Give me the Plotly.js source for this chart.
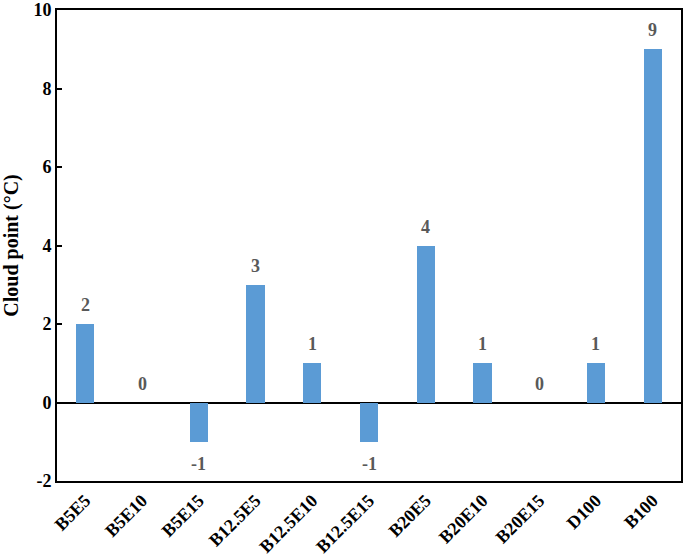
<!DOCTYPE html>
<html>
<head>
<meta charset="UTF-8">
<script src="https://cdn.plot.ly/plotly-3.0.1.min.js"></script>
<style>
  body { margin: 0; }
  #chart { width: 685px; height: 558px; }
</style>
</head>
<body>
<div id="chart"></div>
<script>
  // blends and their cloud points
  const blends = ['B5E5', 'B5E10', 'B5E15', 'B12.5E5', 'B12.5E10', 'B12.5E15', 'B20E5', 'B20E10', 'B20E15', 'D100', 'B100'];
  const cloudPoint = [2, 0, -1, 3, 1, -1, 4, 1, 0, 1, 9];
  const yTicks = [-2, 0, 2, 4, 6, 8, 10];

  const font = '"Liberation Serif", "Times New Roman", serif';

  const bars = {
    x: blends,
    y: cloudPoint,
    type: 'bar',
    width: 0.32,
    marker: { color: '#5B9BD5' },
    hoverinfo: 'x+y'
  };

  // value labels above / below the bars
  const labels = blends.map((b, i) => ({
    x: b,
    y: cloudPoint[i],
    text: '<b>' + cloudPoint[i] + '</b>',
    showarrow: false,
    yshift: cloudPoint[i] < 0 ? -22 : 19,
    font: { family: font, size: 18, color: '#595959' }
  }));

  const layout = {
    width: 685,
    height: 558,
    margin: { l: 57, r: 4, t: 10, b: 77 },
    paper_bgcolor: 'white',
    plot_bgcolor: 'white',
    showlegend: false,
    bargap: 0,
    font: { family: font, color: 'black' },
    xaxis: {
      type: 'category',
      tickangle: -45,
      tickfont: { family: font, size: 18, color: 'black', weight: 'bold' },
      showline: true,
      linecolor: 'black',
      linewidth: 2,
      mirror: true,
      ticks: '',
      showgrid: false,
      zeroline: false
    },
    yaxis: {
      range: [-2, 10],
      tickmode: 'array',
      tickvals: yTicks,
      ticktext: yTicks.map(String),
      ticklabeloverflow: 'allow',
      tickfont: { family: font, size: 18, color: 'black', weight: 'bold' },
      showline: true,
      linecolor: 'black',
      linewidth: 2,
      mirror: true,
      ticks: 'inside',
      ticklen: 5,
      tickwidth: 1.5,
      tickcolor: 'black',
      showgrid: false,
      zeroline: true,
      zerolinecolor: 'black',
      zerolinewidth: 1.5,
      title: { text: '<b>Cloud point (°C)</b>', font: { family: font, size: 20, color: 'black' }, standoff: 10 }
    },
    annotations: labels
  };

  Plotly.newPlot('chart', [bars], layout, { displayModeBar: false });
</script>
</body>
</html>
